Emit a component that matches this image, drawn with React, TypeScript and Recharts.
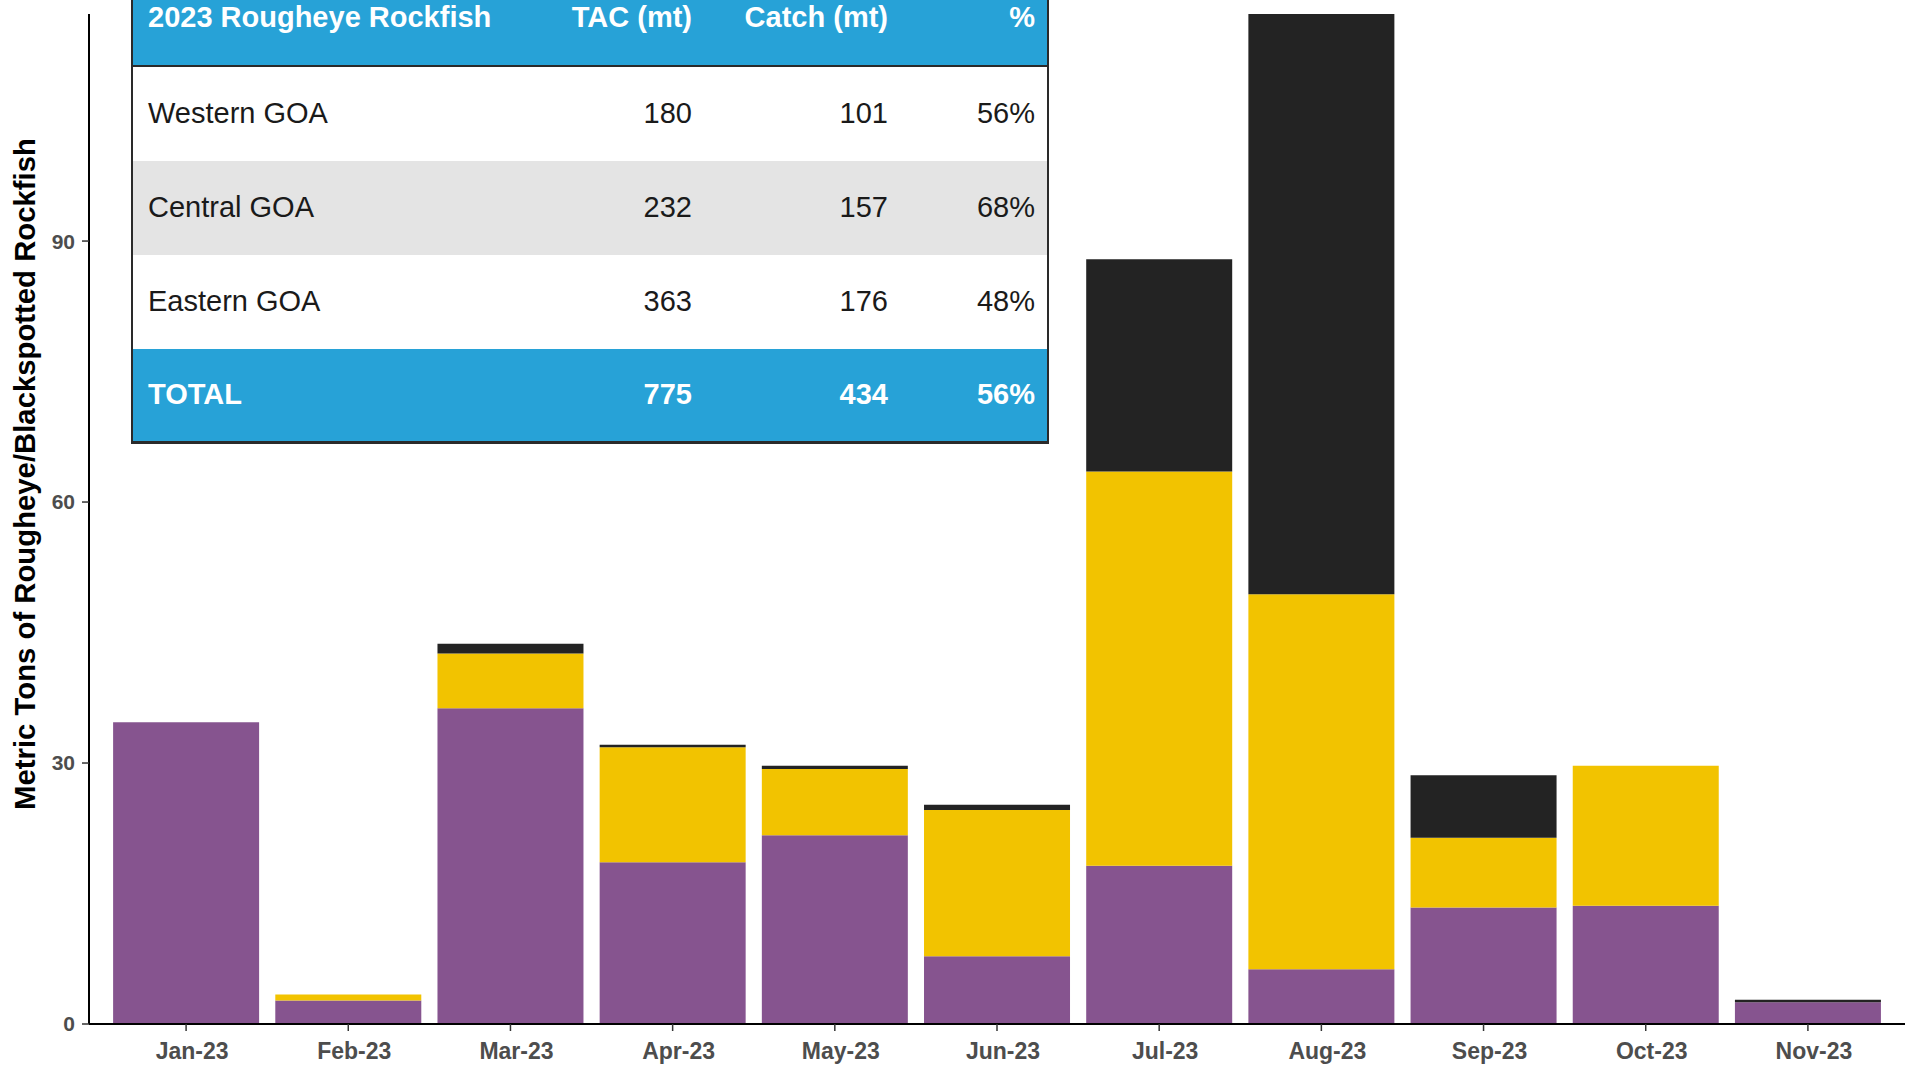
import React from 'react';
import { BarChart, Bar, XAxis, YAxis, Label } from 'recharts';

const months = ['Jan-23', 'Feb-23', 'Mar-23', 'Apr-23', 'May-23', 'Jun-23', 'Jul-23', 'Aug-23', 'Sep-23', 'Oct-23', 'Nov-23'];
const eastern = [34.7, 2.7, 36.3, 18.6, 21.7, 7.8, 18.2, 6.3, 13.4, 13.6, 2.5];
const central = [0, 0.7, 6.3, 13.2, 7.6, 16.8, 45.3, 43.1, 8.0, 16.1, 0];
const western = [0, 0, 1.1, 0.3, 0.4, 0.6, 24.4, 66.7, 7.2, 0, 0.3];
const yTicks = [0, 30, 60, 90];

const tableHeader = ['2023 Rougheye Rockfish', 'TAC (mt)', 'Catch (mt)', '%'];
const tableRegions = ['Western GOA', 'Central GOA', 'Eastern GOA'];
const tableTac = ['180', '232', '363'];
const tableCatch = ['101', '157', '176'];
const tablePct = ['56%', '68%', '48%'];
const totalRow = ['TOTAL', '775', '434', '56%'];

const data = months.map((m, i) => ({
  month: m,
  eastern: eastern[i],
  central: central[i],
  western: western[i],
}));

const FONT = '"Liberation Sans", Arial, Helvetica, sans-serif';
const BLUE = '#27A2D7';
const PURPLE = '#86548F';
const YELLOW = '#F2C300';
const BLACK = '#232323';

const colRight = [0, 559, 755, 902];

function Row({ cells, bg, color, bold, height, textTop }: any) {
  return (
    <div style={{ position: 'relative', height, background: bg, color, fontWeight: bold ? 'bold' : 'normal' }}>
      {cells.map((c: string, j: number) =>
        j === 0 ? (
          <span key={j} style={{ position: 'absolute', left: 15, top: textTop, lineHeight: '34px' }}>{c}</span>
        ) : (
          <span key={j} style={{ position: 'absolute', right: 914 - colRight[j], top: textTop, lineHeight: '34px', textAlign: 'right' }}>{c}</span>
        )
      )}
    </div>
  );
}

function SummaryTable() {
  return (
    <div
      style={{
        position: 'absolute',
        left: 131,
        top: 0,
        width: 914,
        fontFamily: FONT,
        fontSize: 29,
        borderLeft: '2.5px solid #2a2a2a',
        borderRight: '2.5px solid #2a2a2a',
        borderBottom: '3px solid #2a2a2a',
        background: '#fff',
      }}
    >
      <div style={{ borderBottom: '2.5px solid #2a2a2a' }}>
        <Row cells={tableHeader} bg={BLUE} color="#fff" bold height={65} textTop={0} />
      </div>
      {tableRegions.map((r, i) => (
        <Row
          key={r}
          cells={[r, tableTac[i], tableCatch[i], tablePct[i]]}
          bg={i === 1 ? '#E4E4E4' : '#fff'}
          color="#1a1a1a"
          height={94}
          textTop={29}
        />
      ))}
      <Row cells={totalRow} bg={BLUE} color="#fff" bold height={92} textTop={28} />
    </div>
  );
}

export default function App() {
  return (
    <div style={{ position: 'absolute', left: 0, top: 0, width: 1911, height: 1067, background: '#fff', fontFamily: FONT }}>
      <BarChart
        width={1911}
        height={1067}
        data={data}
        margin={{ top: 14, right: 6, bottom: 0, left: 0 }}
        barCategoryGap="5%"
      >
        <XAxis
          dataKey="month"
          height={43}
          padding={{ left: 16, right: 16 }}
          axisLine={{ stroke: '#000', strokeWidth: 2 }}
          tickLine={{ stroke: '#333', strokeWidth: 1.5 }}
          tickSize={7}
          tickMargin={12}
          tick={{ fill: '#4d4d4d', fontSize: 23, fontWeight: 'bold', fontFamily: FONT, dx: 6 }}
          interval={0}
        />
        <YAxis
          width={89}
          domain={[0, 'dataMax']}
          ticks={yTicks}
          axisLine={{ stroke: '#000', strokeWidth: 2 }}
          tickLine={{ stroke: '#333', strokeWidth: 1.5 }}
          tickSize={7}
          tickMargin={7}
          tick={{ fill: '#4d4d4d', fontSize: 21, fontWeight: 'bold', fontFamily: FONT }}
        >
          <Label
            content={() => (
              <text
                x={24}
                y={474}
                transform="rotate(-90 24 474)"
                textAnchor="middle"
                dominantBaseline="central"
                fontSize={29.3}
                fontWeight="bold"
                fontFamily={FONT}
                fill="#000"
              >
                Metric Tons of Rougheye/Blackspotted Rockfish
              </text>
            )}
          />
        </YAxis>
        <Bar dataKey="eastern" stackId="a" fill={PURPLE} isAnimationActive={false} />
        <Bar dataKey="central" stackId="a" fill={YELLOW} isAnimationActive={false} />
        <Bar dataKey="western" stackId="a" fill={BLACK} isAnimationActive={false} />
      </BarChart>
      <SummaryTable />
    </div>
  );
}
